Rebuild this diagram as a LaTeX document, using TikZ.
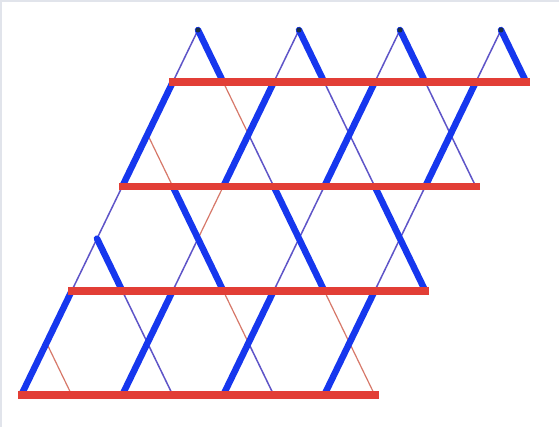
\documentclass[tikz,border=0pt]{standalone}
\definecolor{thickblue}{RGB}{22,55,238}
\definecolor{rowred}{RGB}{226,62,54}
\definecolor{thinblue}{RGB}{95,85,200}
\definecolor{thinred}{RGB}{215,120,105}
\definecolor{dotcol}{RGB}{25,45,70}
\definecolor{framegray}{RGB}{225,228,235}
\begin{document}
\begin{tikzpicture}[x=1bp,y=-1bp,
  thickbond/.style={draw=thickblue,line width=6.5bp,line cap=round},
  thinb/.style={draw=thinblue,line width=1.5bp},
  thinr/.style={draw=thinred,line width=1.2bp},
  rowbar/.style={draw=rowred,line width=7.5bp,line cap=rect},
  apex/.style={circle,fill=dotcol,inner sep=0pt,minimum size=5bp}]
\useasboundingbox (0,0) rectangle (559,427);
\fill[white] (0,0) rectangle (559,427);
\draw[framegray,line width=2bp] (1,427) -- (1,1) -- (559,1);
% lattice points: "/" lines P<i>-<j>, "\" lines Q<m>-<j>
\foreach \i in {0,...,3}
  \foreach \j in {0,...,7}
    \coordinate (P\i-\j) at ({198+101*\i-25.25*\j},{30+52.15*\j});
\foreach \m in {-3,...,3}
  \foreach \j in {0,...,7}
    \coordinate (Q\m-\j) at ({198+101*\m+25.25*\j},{30+52.15*\j});
% thin blue segments
\foreach \a/\b in {P0-0/P0-1,P1-0/P1-1,P2-0/P2-1,P3-0/P3-1,
                   P0-3/P0-5,P2-3/P2-5,P3-3/P3-5,P1-4/P1-5,
                   Q2-1/Q2-3,Q1-1/Q1-3,Q0-2/Q0-3,Q-1-6/Q-1-7,Q-2-5/Q-2-7}
  \draw[thinb] (\a) -- (\b);
% thin red segments
\foreach \a/\b in {P1-3/P1-4,Q0-1/Q0-2,Q0-5/Q0-7,Q-1-2/Q-1-3,Q-1-5/Q-1-6,Q-3-6/Q-3-7}
  \draw[thinr] (\a) -- (\b);
% thick blue segments
\foreach \a/\b in {P0-1/P0-3,P1-1/P1-3,P2-1/P2-3,P3-1/P3-3,
                   P0-5/P0-7,P1-5/P1-7,P2-5/P2-7,P3-5/P3-7,
                   Q3-0/Q3-1,Q2-0/Q2-1,Q1-0/Q1-1,Q0-0/Q0-1,
                   Q1-3/Q1-5,Q0-3/Q0-5,Q-1-3/Q-1-5,Q-2-4/Q-2-5}
  \draw[thickbond] (\a) -- (\b);
% red rows
\draw[rowbar] (P0-1) -- (Q3-1);
\draw[rowbar] (P0-3) -- (Q2-3);
\draw[rowbar] (P0-5) -- (Q1-5);
\draw[rowbar] (P0-7) -- (Q0-7);
% apex dots
\foreach \i in {0,...,3}
  \node[apex] (apex\i) at (P\i-0) {};
\end{tikzpicture}
\end{document}
